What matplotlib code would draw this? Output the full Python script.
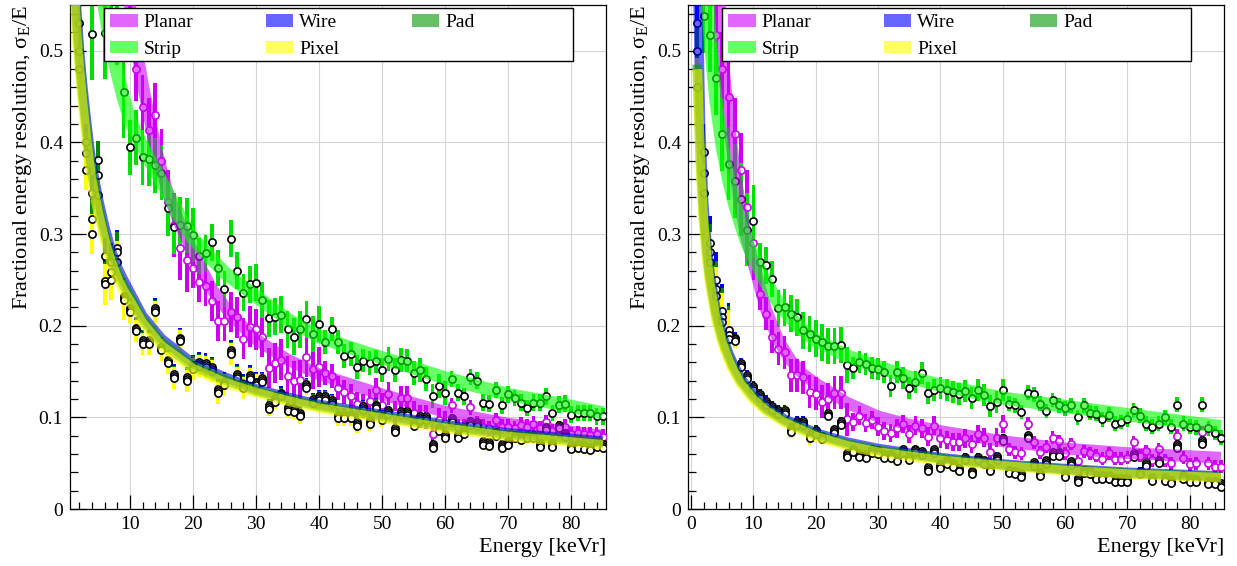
import matplotlib
matplotlib.use("Agg")
import matplotlib.pyplot as plt
from matplotlib.patches import Patch, Rectangle
from matplotlib.ticker import MultipleLocator, FuncFormatter

plt.rcParams['font.family'] = ['Liberation Serif', 'DejaVu Serif']
plt.rcParams['mathtext.fontset'] = 'custom'
plt.rcParams['mathtext.rm'] = 'Liberation Serif'
plt.rcParams['mathtext.it'] = 'Liberation Serif:italic'

# energies of the data points [keVr]
energy = list(range(1, 86))

# ---------------- left panel: data points ----------------
planar_L = [0.80, 0.78, 0.76, 0.74, 0.72, 0.70, 0.68, 0.66, 0.62, 0.53,
            0.48, 0.439, 0.414, 0.430, 0.38, 0.335, 0.31, 0.285, 0.272, 0.263,
            0.248, 0.243, 0.227, 0.205, 0.205, 0.215, 0.209, 0.186, 0.199, 0.196,
            0.188, 0.154, 0.159, 0.163, 0.145, 0.140, 0.141, 0.166, 0.153, 0.155,
            0.148, 0.145, 0.132, 0.128, 0.123, 0.115, 0.112, 0.118, 0.130, 0.114,
            0.126, 0.105, 0.121, 0.121, 0.105, 0.101, 0.100, 0.082, 0.097, 0.094,
            0.113, 0.090, 0.090, 0.111, 0.093, 0.090, 0.088, 0.097, 0.090, 0.090,
            0.088, 0.092, 0.090, 0.093, 0.088, 0.095, 0.085, 0.085, 0.090, 0.082,
            0.083, 0.082, 0.081, 0.082, 0.079]
strip_L = [0.70, 0.68, 0.65, 0.518, 0.60, 0.519, 0.58, 0.535, 0.455, 0.395,
           0.405, 0.384, 0.382, 0.375, 0.367, 0.328, 0.308, 0.310, 0.309, 0.299,
           0.276, 0.279, 0.291, 0.263, 0.240, 0.295, 0.260, 0.236, 0.245, 0.247,
           0.228, 0.208, 0.210, 0.212, 0.196, 0.188, 0.196, 0.207, 0.191, 0.202,
           0.182, 0.196, 0.182, 0.167, 0.169, 0.155, 0.162, 0.159, 0.161, 0.152,
           0.164, 0.152, 0.163, 0.162, 0.148, 0.152, 0.142, 0.123, 0.134, 0.127,
           0.142, 0.127, 0.123, 0.144, 0.140, 0.116, 0.115, 0.130, 0.113, 0.125,
           0.121, 0.116, 0.110, 0.116, 0.116, 0.123, 0.105, 0.114, 0.115, 0.103,
           0.105, 0.105, 0.105, 0.101, 0.101]
pad_L = [0.62, 0.50, 0.389, 0.316, 0.381, 0.249, 0.259, 0.281, 0.230, 0.217,
         0.196, 0.182, 0.182, 0.217, 0.175, 0.161, 0.145, 0.185, 0.142, 0.155,
         0.158, 0.157, 0.153, 0.129, 0.137, 0.171, 0.145, 0.134, 0.144, 0.137,
         0.141, 0.111, 0.119, 0.125, 0.109, 0.108, 0.103, 0.134, 0.118, 0.121,
         0.121, 0.117, 0.101, 0.101, 0.101, 0.093, 0.110, 0.095, 0.112, 0.099,
         0.106, 0.086, 0.105, 0.105, 0.093, 0.099, 0.099, 0.069, 0.087, 0.080,
         0.097, 0.080, 0.084, 0.094, 0.093, 0.072, 0.071, 0.082, 0.069, 0.072,
         0.079, 0.077, 0.079, 0.079, 0.070, 0.088, 0.070, 0.090, 0.081, 0.068,
         0.069, 0.068, 0.066, 0.070, 0.069]
wire_L = [0.64, 0.53, 0.40, 0.345, 0.365, 0.276, 0.27, 0.285, 0.232, 0.219,
          0.198, 0.184, 0.184, 0.219, 0.177, 0.163, 0.147, 0.187, 0.144, 0.157,
          0.160, 0.159, 0.155, 0.131, 0.139, 0.173, 0.147, 0.136, 0.146, 0.139,
          0.143, 0.113, 0.121, 0.127, 0.111, 0.110, 0.105, 0.136, 0.120, 0.123,
          0.123, 0.119, 0.103, 0.103, 0.103, 0.095, 0.112, 0.097, 0.114, 0.101,
          0.108, 0.088, 0.107, 0.107, 0.095, 0.101, 0.101, 0.071, 0.089, 0.082,
          0.099, 0.082, 0.086, 0.096, 0.095, 0.074, 0.073, 0.084, 0.071, 0.074,
          0.081, 0.079, 0.081, 0.081, 0.072, 0.090, 0.072, 0.092, 0.083, 0.070,
          0.071, 0.070, 0.068, 0.072, 0.071]
pixel_L = [0.60, 0.48, 0.37, 0.30, 0.343, 0.245, 0.25, 0.27, 0.228, 0.215,
           0.194, 0.180, 0.180, 0.215, 0.173, 0.159, 0.143, 0.183, 0.140, 0.153,
           0.156, 0.155, 0.151, 0.127, 0.135, 0.169, 0.143, 0.132, 0.142, 0.135,
           0.139, 0.109, 0.117, 0.123, 0.107, 0.106, 0.101, 0.132, 0.116, 0.119,
           0.119, 0.115, 0.099, 0.099, 0.099, 0.091, 0.108, 0.093, 0.110, 0.097,
           0.104, 0.084, 0.103, 0.103, 0.091, 0.097, 0.097, 0.067, 0.085, 0.078,
           0.095, 0.078, 0.082, 0.092, 0.091, 0.070, 0.069, 0.080, 0.067, 0.070,
           0.077, 0.075, 0.077, 0.077, 0.068, 0.086, 0.068, 0.088, 0.079, 0.066,
           0.067, 0.066, 0.064, 0.068, 0.067]

planar_err_L = [0.04] * 9 + [0.035] * 10 + [0.022] * 21 + [0.013] * 20 + [0.008] * 25
strip_err_L = [0.05] * 9 + [0.03] * 11 + [0.02] * 20 + [0.013] * 20 + [0.009] * 25
wire_err_L = [0.02] * 9 + [0.011] * 21 + [0.007] * 20 + [0.0045] * 35
pad_err_L = [0.021] * 9 + [0.0115] * 21 + [0.0075] * 20 + [0.005] * 35
pixel_err_L = [0.022] * 9 + [0.012] * 21 + [0.008] * 20 + [0.0055] * 35

# ---------------- left panel: fit bands ----------------
olive_fit_E_L = [1, 1.5, 2, 2.5, 3, 3.5, 4, 5, 6, 7, 8, 9, 10, 12, 15, 20, 25, 30, 35, 40, 50, 60, 70, 85]
wire_fit_L = [0.66, 0.55, 0.50, 0.462, 0.43, 0.40, 0.374, 0.338, 0.308, 0.283, 0.264, 0.25,
              0.237, 0.211, 0.186, 0.159, 0.144, 0.131, 0.122, 0.114, 0.103, 0.092, 0.083, 0.074]
pad_fit_L = [0.64, 0.535, 0.49, 0.452, 0.42, 0.39, 0.365, 0.33, 0.30, 0.276, 0.258, 0.244,
             0.232, 0.207, 0.182, 0.156, 0.141, 0.129, 0.120, 0.112, 0.101, 0.090, 0.081, 0.072]
pixel_fit_L = [0.62, 0.52, 0.478, 0.442, 0.41, 0.38, 0.356, 0.322, 0.293, 0.27, 0.252, 0.238,
               0.227, 0.203, 0.178, 0.153, 0.138, 0.127, 0.118, 0.110, 0.099, 0.088, 0.079, 0.070]
strip_fit_E_L = [5, 5.5, 6, 7, 8, 9, 10, 12, 14, 16, 18, 20, 25, 30, 35, 40, 45, 50, 60, 70, 80, 85]
strip_fit_L = [0.595, 0.57, 0.545, 0.505, 0.475, 0.448, 0.425, 0.395, 0.37, 0.345, 0.318,
               0.295, 0.258, 0.232, 0.207, 0.188, 0.176, 0.165, 0.143, 0.125, 0.112, 0.105]
planar_fit_E_L = [9.5, 10, 11, 12, 13, 14, 15, 16, 18, 20, 23, 26, 30, 35, 40, 50, 60, 70, 85]
planar_fit_L = [0.58, 0.55, 0.505, 0.465, 0.43, 0.398, 0.37, 0.345, 0.31, 0.28, 0.24,
                0.212, 0.185, 0.163, 0.147, 0.125, 0.106, 0.093, 0.080]

# ---------------- right panel: data points ----------------
planar_R = [0.65, 0.62, 0.58, 0.517, 0.48, 0.45, 0.409, 0.37, 0.33, 0.29,
            0.235, 0.213, 0.188, 0.175, 0.171, 0.146, 0.146, 0.144, 0.128, 0.126,
            0.117, 0.120, 0.127, 0.127, 0.098, 0.095, 0.102, 0.094, 0.097, 0.090,
            0.085, 0.083, 0.088, 0.093, 0.082, 0.091, 0.088, 0.079, 0.091, 0.077,
            0.075, 0.073, 0.073, 0.077, 0.071, 0.082, 0.078, 0.062, 0.078, 0.093,
            0.065, 0.062, 0.061, 0.093, 0.073, 0.062, 0.068, 0.078, 0.074, 0.061,
            0.071, 0.052, 0.063, 0.061, 0.058, 0.055, 0.061, 0.055, 0.055, 0.056,
            0.073, 0.058, 0.063, 0.053, 0.065, 0.053, 0.050, 0.080, 0.056, 0.049,
            0.050, 0.084, 0.050, 0.046, 0.046]
strip_R = [0.62, 0.538, 0.517, 0.47, 0.409, 0.377, 0.358, 0.338, 0.305, 0.314,
           0.27, 0.266, 0.251, 0.219, 0.220, 0.213, 0.209, 0.195, 0.191, 0.186,
           0.182, 0.178, 0.178, 0.179, 0.157, 0.154, 0.160, 0.158, 0.154, 0.153,
           0.149, 0.134, 0.150, 0.143, 0.132, 0.139, 0.148, 0.127, 0.130, 0.132,
           0.130, 0.128, 0.125, 0.129, 0.121, 0.130, 0.124, 0.112, 0.117, 0.130,
           0.115, 0.113, 0.106, 0.127, 0.125, 0.115, 0.107, 0.119, 0.113, 0.110,
           0.113, 0.100, 0.113, 0.105, 0.104, 0.098, 0.103, 0.093, 0.095, 0.098,
           0.108, 0.102, 0.093, 0.090, 0.093, 0.100, 0.090, 0.114, 0.093, 0.090,
           0.089, 0.114, 0.088, 0.083, 0.078]
pad_R = [0.50, 0.367, 0.28, 0.24, 0.21, 0.19, 0.185, 0.157, 0.144, 0.132,
         0.123, 0.116, 0.110, 0.106, 0.106, 0.086, 0.094, 0.094, 0.079, 0.084,
         0.078, 0.103, 0.085, 0.094, 0.059, 0.064, 0.059, 0.058, 0.063, 0.062,
         0.058, 0.058, 0.054, 0.063, 0.055, 0.064, 0.061, 0.044, 0.063, 0.047,
         0.051, 0.048, 0.043, 0.055, 0.040, 0.055, 0.051, 0.043, 0.056, 0.076,
         0.041, 0.040, 0.037, 0.079, 0.049, 0.038, 0.051, 0.060, 0.060, 0.037,
         0.050, 0.032, 0.041, 0.040, 0.035, 0.035, 0.035, 0.032, 0.032, 0.032,
         0.059, 0.040, 0.049, 0.033, 0.052, 0.033, 0.030, 0.069, 0.035, 0.032,
         0.031, 0.073, 0.029, 0.029, 0.026]
wire_R = [0.53, 0.39, 0.29, 0.25, 0.216, 0.195, 0.187, 0.159, 0.146, 0.134,
          0.125, 0.118, 0.112, 0.108, 0.108, 0.088, 0.096, 0.096, 0.081, 0.086,
          0.080, 0.105, 0.087, 0.096, 0.061, 0.066, 0.061, 0.060, 0.065, 0.064,
          0.060, 0.060, 0.056, 0.065, 0.057, 0.066, 0.063, 0.046, 0.065, 0.049,
          0.053, 0.050, 0.045, 0.057, 0.042, 0.057, 0.053, 0.045, 0.058, 0.078,
          0.043, 0.042, 0.039, 0.081, 0.051, 0.040, 0.053, 0.062, 0.062, 0.039,
          0.052, 0.034, 0.043, 0.042, 0.037, 0.037, 0.037, 0.034, 0.034, 0.034,
          0.061, 0.042, 0.051, 0.035, 0.054, 0.035, 0.032, 0.071, 0.037, 0.034,
          0.033, 0.075, 0.031, 0.031, 0.028]
pixel_R = [0.46, 0.345, 0.27, 0.232, 0.204, 0.185, 0.183, 0.155, 0.142, 0.130,
           0.121, 0.114, 0.108, 0.104, 0.104, 0.084, 0.092, 0.092, 0.077, 0.082,
           0.076, 0.101, 0.083, 0.092, 0.057, 0.062, 0.057, 0.056, 0.061, 0.060,
           0.056, 0.056, 0.052, 0.061, 0.053, 0.062, 0.059, 0.042, 0.061, 0.045,
           0.049, 0.046, 0.041, 0.053, 0.038, 0.053, 0.049, 0.041, 0.054, 0.074,
           0.039, 0.038, 0.035, 0.077, 0.047, 0.036, 0.049, 0.058, 0.058, 0.035,
           0.048, 0.030, 0.039, 0.038, 0.033, 0.033, 0.033, 0.030, 0.030, 0.030,
           0.057, 0.038, 0.047, 0.031, 0.050, 0.031, 0.028, 0.067, 0.033, 0.030,
           0.029, 0.071, 0.027, 0.027, 0.024]

planar_err_R = [0.04] * 10 + [0.018] * 15 + [0.01] * 25 + [0.007] * 35
strip_err_R = [0.04] * 10 + [0.02] * 15 + [0.012] * 25 + [0.008] * 35
wire_err_R = [0.03] * 6 + [0.006] * 14 + [0.004] * 30 + [0.0035] * 35
pad_err_R = [0.031] * 6 + [0.0065] * 14 + [0.0045] * 30 + [0.004] * 35
pixel_err_R = [0.032] * 6 + [0.007] * 14 + [0.005] * 30 + [0.0045] * 35

# ---------------- right panel: fit bands ----------------
olive_fit_E_R = [1, 1.5, 2, 2.5, 3, 4, 5, 6, 7, 8, 10, 12, 15, 20, 25, 30, 40, 50, 60, 70, 85]
wire_fit_R = [0.60, 0.42, 0.335, 0.29, 0.258, 0.217, 0.19, 0.17, 0.155, 0.142, 0.125,
              0.111, 0.098, 0.083, 0.073, 0.066, 0.056, 0.049, 0.044, 0.040, 0.036]
pad_fit_R = [0.485, 0.38, 0.32, 0.28, 0.251, 0.211, 0.185, 0.166, 0.151, 0.139, 0.122,
             0.109, 0.096, 0.081, 0.071, 0.064, 0.055, 0.048, 0.043, 0.039, 0.035]
pixel_fit_R = [0.48, 0.37, 0.312, 0.273, 0.245, 0.206, 0.181, 0.162, 0.148, 0.136, 0.119,
               0.107, 0.094, 0.079, 0.069, 0.062, 0.053, 0.047, 0.042, 0.038, 0.034]
strip_fit_E_R = [2.3, 2.5, 3, 3.5, 4, 5, 6, 7, 8, 9, 10, 12, 14, 16, 18, 20, 25, 30, 35, 40, 50, 60, 70, 85]
strip_fit_R = [0.60, 0.57, 0.52, 0.48, 0.445, 0.395, 0.36, 0.332, 0.31, 0.29, 0.275, 0.247,
               0.225, 0.208, 0.195, 0.184, 0.167, 0.155, 0.144, 0.135, 0.121, 0.112, 0.103, 0.090]
planar_fit_E_R = [4, 4.5, 5, 6, 7, 8, 9, 10, 12, 14, 16, 18, 20, 25, 30, 35, 40, 50, 60, 70, 85]
planar_fit_R = [0.62, 0.56, 0.50, 0.425, 0.37, 0.325, 0.293, 0.268, 0.218, 0.184, 0.162,
                0.147, 0.137, 0.116, 0.101, 0.092, 0.085, 0.074, 0.066, 0.061, 0.056]

# drawing order (same as ROOT) and colours
names = ['Planar', 'Wire', 'Pad', 'Strip', 'Pixel']
# matplotlib fills legend columns first, so this gives rows Planar/Wire/Pad, Strip/Pixel
legend_order = ['Planar', 'Strip', 'Wire', 'Pixel', 'Pad']
band_colors = {'Planar': '#cc00ff', 'Wire': '#0000ff', 'Pad': '#009900',
               'Strip': '#00ff00', 'Pixel': '#ffff00'}
box_colors = {'Planar': '#cc00ee', 'Wire': '#0000ff', 'Pad': '#008800',
              'Strip': '#00e000', 'Pixel': '#ffff00'}
marker_edge = {'Planar': '#cc00ee', 'Wire': 'black', 'Pad': 'black',
               'Strip': 'black', 'Pixel': 'black'}
band_width = {'Planar': 8.5, 'Wire': 7, 'Pad': 7, 'Strip': 9.5, 'Pixel': 7}

left_data = {'Planar': (planar_L, planar_err_L), 'Wire': (wire_L, wire_err_L),
             'Pad': (pad_L, pad_err_L), 'Strip': (strip_L, strip_err_L),
             'Pixel': (pixel_L, pixel_err_L)}
left_fits = {'Planar': (planar_fit_E_L, planar_fit_L), 'Wire': (olive_fit_E_L, wire_fit_L),
             'Pad': (olive_fit_E_L, pad_fit_L), 'Strip': (strip_fit_E_L, strip_fit_L),
             'Pixel': (olive_fit_E_L, pixel_fit_L)}
right_data = {'Planar': (planar_R, planar_err_R), 'Wire': (wire_R, wire_err_R),
              'Pad': (pad_R, pad_err_R), 'Strip': (strip_R, strip_err_R),
              'Pixel': (pixel_R, pixel_err_R)}
right_fits = {'Planar': (planar_fit_E_R, planar_fit_R), 'Wire': (olive_fit_E_R, wire_fit_R),
              'Pad': (olive_fit_E_R, pad_fit_R), 'Strip': (strip_fit_E_R, strip_fit_R),
              'Pixel': (olive_fit_E_R, pixel_fit_R)}


def draw_panel(ax, data, fits, xlim, xticks):
    # error boxes, then markers, then the translucent fit bands on top
    for n in names:
        vals, errs = data[n]
        bottoms = [v - e for v, e in zip(vals, errs)]
        heights = [2 * e for e in errs]
        ax.bar(energy, heights, bottom=bottoms, width=0.6, color=box_colors[n],
               linewidth=0, zorder=2)
    for n in names:
        vals, errs = data[n]
        ax.plot(energy, vals, 'o', ms=5.2, mfc='white', mec=marker_edge[n],
                mew=1.2, zorder=3)
    for n in names:
        fe, fv = fits[n]
        ax.plot(fe, fv, color=band_colors[n], lw=band_width[n], alpha=0.6,
                solid_capstyle='butt', zorder=4)

    ax.set_xlim(*xlim)
    ax.set_ylim(0, 0.55)
    ax.set_xticks(xticks)
    ax.set_yticks([0, 0.1, 0.2, 0.3, 0.4, 0.5])
    ax.yaxis.set_major_formatter(FuncFormatter(lambda v, p: '%g' % round(v, 2)))
    ax.xaxis.set_minor_locator(MultipleLocator(2))
    ax.yaxis.set_minor_locator(MultipleLocator(0.02))
    ax.tick_params(which='both', direction='in', labelsize=14, width=0.9)
    ax.tick_params(axis='x', which='major', length=10, pad=5)
    ax.tick_params(axis='x', which='minor', length=5)
    ax.tick_params(axis='y', which='major', length=11.5, pad=5)
    ax.tick_params(axis='y', which='minor', length=5.8)
    ax.grid(True, which='major', color='#d4d4d4', lw=0.8, zorder=0)
    ax.set_axisbelow(True)
    for s in ax.spines.values():
        s.set_linewidth(0.9)

    ax.set_ylabel('Fractional energy resolution, σ$_{\\mathrm{E}}$/E', fontsize=16, loc='top')
    ax.yaxis.set_label_coords(-0.068, 1.0)
    ax.set_xlabel('Energy [keVr]', fontsize=16, loc='right')
    ax.xaxis.set_label_coords(1.0, -0.058)

    # legend frame as in ROOT: fixed box, equal column slots
    ax.add_patch(Rectangle((0.063, 0.889), 0.875, 0.105, transform=ax.transAxes,
                           facecolor='white', edgecolor='black', lw=1.0, zorder=9))
    handles = [Patch(facecolor=band_colors[n], alpha=0.6, edgecolor='none', label=n)
               for n in legend_order]
    leg = ax.legend(handles=handles, ncol=3, loc='upper left',
                    bbox_to_anchor=(0.068, 0.99), fontsize=14, frameon=False,
                    handlelength=1.4, handleheight=0.62, handletextpad=0.3,
                    borderpad=0.2, labelspacing=0.5, columnspacing=3.75,
                    borderaxespad=0)
    leg.set_zorder(10)


fig = plt.figure(figsize=(12.37, 5.66), dpi=100)
ax1 = fig.add_axes([70 / 1237, 57 / 566, 536 / 1237, 504 / 566])
ax2 = fig.add_axes([688 / 1237, 57 / 566, 536 / 1237, 504 / 566])

draw_panel(ax1, left_data, left_fits, (0.5, 85.5), [10, 20, 30, 40, 50, 60, 70, 80])
draw_panel(ax2, right_data, right_fits, (-0.5, 85.5), [0, 10, 20, 30, 40, 50, 60, 70, 80])

fig.savefig('out.png', dpi=100)
